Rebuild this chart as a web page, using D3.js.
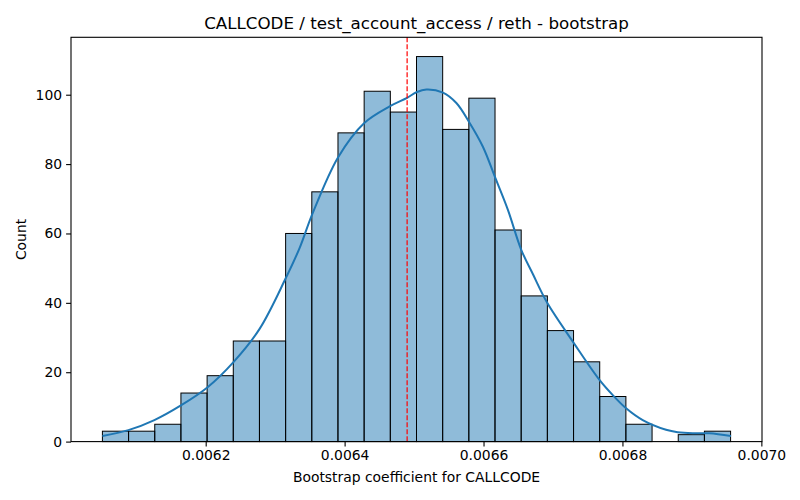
<!DOCTYPE html>
<html>
<head>
<meta charset="utf-8">
<script src="https://cdn.jsdelivr.net/npm/d3@7"></script>
<style>
  body { margin: 0; background: #fff; }
  svg { font-family: "DejaVu Sans", sans-serif; }
</style>
</head>
<body>
<script>
// histogram bins (count per bin), first/last bin edge
var binLo = 0.0060513;
var binHi = 0.0069557;
var counts = [3, 3, 5, 14, 19, 29, 29, 60, 72, 89, 101, 95, 111, 90, 99, 61, 42, 32, 23, 13, 5, 0, 2, 3];

// kde curve (x value, count)
var kdeX = [0.0060513, 0.0060887, 0.0061261, 0.0061649, 0.0062023, 0.0062403, 0.0062776, 0.0063150,
    0.0063356, 0.0063533, 0.0063907, 0.0064280, 0.0064654, 0.0064899, 0.0065034, 0.0065178,
    0.0065416, 0.0065609, 0.0065796, 0.0065991, 0.0066170, 0.0066351, 0.0066543, 0.0066710,
    0.0066917, 0.0067300, 0.0067669, 0.0067861, 0.0068053, 0.0068292, 0.0068628, 0.0068795,
    0.0069011, 0.0069251, 0.0069563];
var kdeY = [1.6, 3.3, 6.2, 10.5, 15.6, 23, 32.5, 47,
    56, 65.5, 82, 91.8, 96.7, 99.1, 100.7, 101.5,
    100.6, 97.6, 92, 85, 76, 66.8, 55.3, 48.3,
    40, 28.4, 17.8, 13.4, 9.6, 6.2, 3.4, 2.7,
    2.4, 2.4, 1.6];

var refValue = 0.00649;
var xTicks = [0.0062, 0.0064, 0.0066, 0.0068, 0.0070];
var yTicks = [0, 20, 40, 60, 80, 100];

var title = "CALLCODE / test_account_access / reth - bootstrap";
var xLabel = "Bootstrap coefficient for CALLCODE";
var yLabel = "Count";

var W = 800, H = 500;
var pL = 71, pR = 762, pT = 37.3, pB = 441.6;

var svg = d3.select("body").append("svg").attr("width", W).attr("height", H);

var binW = (binHi - binLo) / counts.length;
var bins = counts.map(function(c, i){ return {x0: binLo + i * binW, x1: binLo + (i + 1) * binW, n: c}; });

var pad = (binHi - binLo) * 0.05;
var x = d3.scaleLinear().domain([binLo - pad, binHi + pad]).range([pL, pR]);
var y = d3.scaleLinear().domain([0, d3.max(counts) * 1.05]).range([pB, pT]);

// bars
svg.append("g").selectAll("rect").data(bins.filter(function(d){ return d.n > 0; }))
    .enter().append("rect")
    .attr("x", function(d){ return x(d.x0); })
    .attr("width", function(d){ return x(d.x1) - x(d.x0); })
    .attr("y", function(d){ return y(d.n); })
    .attr("height", function(d){ return y(0) - y(d.n); })
    .attr("fill", "rgba(31,119,180,0.5)")
    .attr("stroke", "#000")
    .attr("stroke-width", 1);

// kde
var line = d3.line()
    .x(function(d){ return x(d[0]); })
    .y(function(d){ return y(d[1]); })
    .curve(d3.curveCatmullRom);
svg.append("path")
    .datum(d3.zip(kdeX, kdeY))
    .attr("d", line)
    .attr("fill", "none")
    .attr("stroke", "#1f77b4")
    .attr("stroke-width", 2);

// reference line
svg.append("line")
    .attr("x1", x(refValue)).attr("x2", x(refValue))
    .attr("y1", pT).attr("y2", pB)
    .attr("stroke", "red")
    .attr("stroke-width", 1.2)
    .attr("stroke-dasharray", "5,2");

// axes
var xAxis = svg.append("g").attr("transform", "translate(0," + pB + ")")
    .call(d3.axisBottom(x).tickValues(xTicks).tickFormat(d3.format(".4f")).tickSize(4.9).tickPadding(4));
var yAxis = svg.append("g").attr("transform", "translate(" + pL + ",0)")
    .call(d3.axisLeft(y).tickValues(yTicks).tickSize(4.9).tickPadding(4));
[xAxis, yAxis].forEach(function(a){
    a.select(".domain").remove();
    a.selectAll("line").attr("stroke", "#000").attr("stroke-width", 1.1);
    a.selectAll("text").attr("font-size", "13.9px").attr("fill", "#000")
        .attr("font-family", "DejaVu Sans, sans-serif");
});

// frame
svg.append("rect")
    .attr("x", pL).attr("y", pT)
    .attr("width", pR - pL).attr("height", pB - pT)
    .attr("fill", "none").attr("stroke", "#000").attr("stroke-width", 1.1);

svg.append("text")
    .attr("x", (pL + pR) / 2).attr("y", 29)
    .attr("text-anchor", "middle").attr("font-size", "16.7px")
    .text(title);

svg.append("text")
    .attr("x", (pL + pR) / 2).attr("y", 482)
    .attr("text-anchor", "middle").attr("font-size", "13.9px")
    .text(xLabel);

svg.append("text")
    .attr("transform", "translate(26," + (pT + pB) / 2 + ") rotate(-90)")
    .attr("text-anchor", "middle").attr("font-size", "13.9px")
    .text(yLabel);
</script>
</body>
</html>
